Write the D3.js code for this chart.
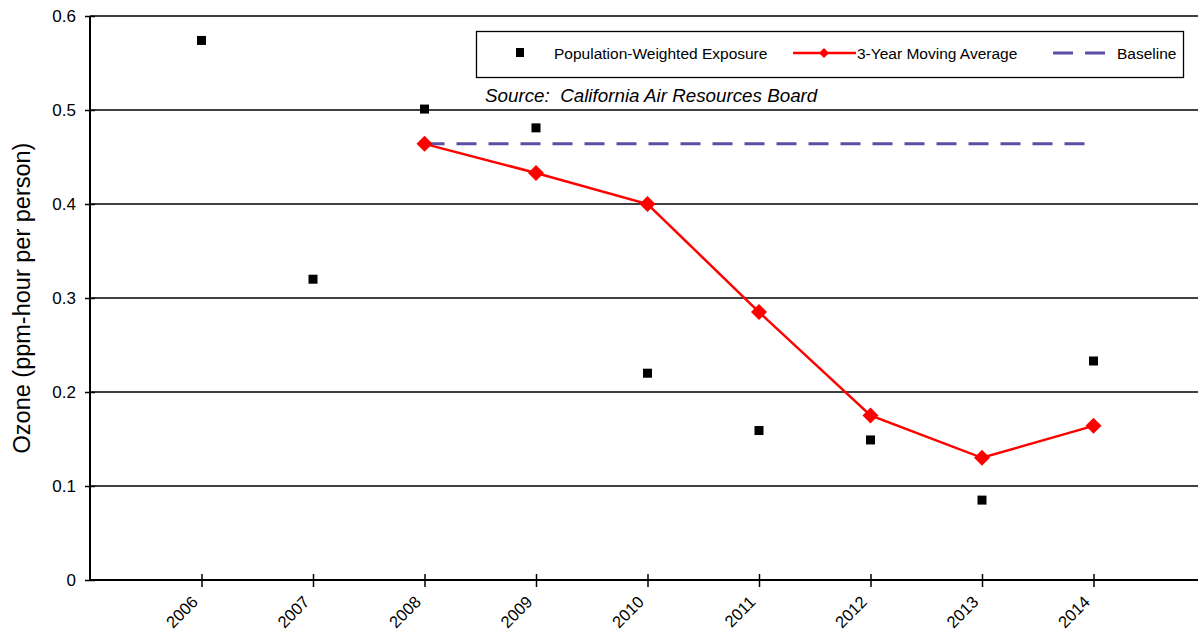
<!DOCTYPE html>
<html><head><meta charset="utf-8">
<script src="https://cdn.jsdelivr.net/npm/d3@7"></script>
<style>body{margin:0;background:#fff;} text{font-family:"Liberation Sans",Arial,sans-serif;}</style>
</head><body><svg id="c" width="1198" height="634"></svg>
<script>
const years = ["2006","2007","2008","2009","2010","2011","2012","2013","2014"];
const exposure = [0.574, 0.320, 0.501, 0.481, 0.220, 0.159, 0.149, 0.085, 0.233];
const movingAvg = [null, null, 0.464, 0.433, 0.400, 0.285, 0.175, 0.130, 0.164];
const baselineYears = ["2008","2014"];
const baselineValue = 0.464;
const yTicks = [0, 0.1, 0.2, 0.3, 0.4, 0.5, 0.6];

const svg = d3.select("#c");
const L = 90, R = 1198, T = 16, B = 580;
const xPos = d3.scalePoint().domain(["", ...years, " "]).range([L, L + 111.5*10]);
const y = d3.scaleLinear().domain([0, 0.6]).range([B, T]);

// grid
svg.append("g").selectAll("line").data(yTicks.slice(1)).join("line")
  .attr("x1", L).attr("x2", R).attr("y1", d=>y(d)).attr("y2", d=>y(d))
  .attr("stroke", "#000").attr("stroke-width", 1.3);

// y axis
const ya = svg.append("g").attr("transform", `translate(${L},0)`)
  .call(d3.axisLeft(y).tickValues(yTicks).tickFormat(d=>d===0?"0":d3.format(".1f")(d)).tickSize(5).tickPadding(6));
ya.select(".domain").attr("stroke-width", 2).attr("d", `M0,${B}V${T}`);
ya.selectAll(".tick line").attr("stroke-width", 1.5).attr("x2", 5).attr("x1", -5);
ya.selectAll("text").attr("font-size", 17).attr("font-family", "Liberation Sans, Arial, sans-serif").attr("fill", "#000").attr("x", -14);

// x axis
const xa = svg.append("g").attr("transform", `translate(0,${B})`)
  .call(d3.axisBottom(xPos).tickValues(years).tickSize(7));
xa.select(".domain").attr("stroke-width", 2).attr("d", `M${L},0H${R}`);
xa.selectAll(".tick line").attr("stroke-width", 1.5).attr("y1", -6).attr("y2", 7);
xa.selectAll("text").attr("font-size", 16.5).attr("font-family", "Liberation Sans, Arial, sans-serif").attr("fill", "#000")
  .attr("text-anchor", "end").attr("dy", "0.35em").attr("y", 0)
  .attr("transform", "translate(-7,19) rotate(-45)");

// y label
svg.append("text").attr("transform", `translate(30,${(T+B)/2}) rotate(-90)`)
  .attr("text-anchor", "middle").attr("font-size", 23.5).text("Ozone (ppm-hour per person)");

// baseline
svg.append("line").attr("x1", xPos(baselineYears[0])).attr("x2", xPos(baselineYears[1]))
  .attr("y1", y(baselineValue)).attr("y2", y(baselineValue))
  .attr("stroke", "#5B4EA8").attr("stroke-width", 3).attr("stroke-dasharray", "20,12");

// moving average
const maData = years.map((yr,i)=>({yr, v: movingAvg[i]})).filter(d=>d.v!==null);
svg.append("path").datum(maData)
  .attr("d", d3.line().x(d=>xPos(d.yr)).y(d=>y(d.v)))
  .attr("fill", "none").attr("stroke", "#FF0000").attr("stroke-width", 2.5);
svg.append("g").selectAll("path").data(maData).join("path")
  .attr("transform", d=>`translate(${xPos(d.yr)},${y(d.v)})`)
  .attr("d", "M0,-8L8,0L0,8L-8,0Z").attr("fill", "#FF0000");

// exposure squares
svg.append("g").selectAll("rect").data(years.map((yr,i)=>({yr, v: exposure[i]}))).join("rect")
  .attr("x", d=>xPos(d.yr)-4.5).attr("y", d=>y(d.v)-4.5).attr("width", 9).attr("height", 9).attr("fill", "#000");

// legend
const lg = svg.append("g");
lg.append("rect").attr("x", 476.5).attr("y", 31.5).attr("width", 707).attr("height", 46)
  .attr("fill", "#fff").attr("stroke", "#000").attr("stroke-width", 1.3);
lg.append("rect").attr("x", 516).attr("y", 48).attr("width", 8).attr("height", 9).attr("fill", "#000");
lg.append("text").attr("x", 554).attr("y", 59).attr("font-size", 15.5).text("Population-Weighted Exposure");
lg.append("line").attr("x1", 793).attr("x2", 856).attr("y1", 53).attr("y2", 53).attr("stroke", "#FF0000").attr("stroke-width", 2.5);
lg.append("path").attr("transform", "translate(824,53)").attr("d", "M0,-5L5,0L0,5L-5,0Z").attr("fill", "#FF0000");
lg.append("text").attr("x", 857).attr("y", 59).attr("font-size", 15.5).text("3-Year Moving Average");
lg.append("line").attr("x1", 1053).attr("x2", 1106).attr("y1", 53).attr("y2", 53).attr("stroke", "#5B4EA8").attr("stroke-width", 3).attr("stroke-dasharray", "20,12");
lg.append("text").attr("x", 1117).attr("y", 59).attr("font-size", 15.5).text("Baseline");

svg.append("text").attr("x", 485).attr("y", 102).attr("font-size", 18.8).attr("font-style", "italic")
  .attr("xml:space", "preserve").style("white-space", "pre")
  .text("Source:  California Air Resources Board");
</script></body></html>
